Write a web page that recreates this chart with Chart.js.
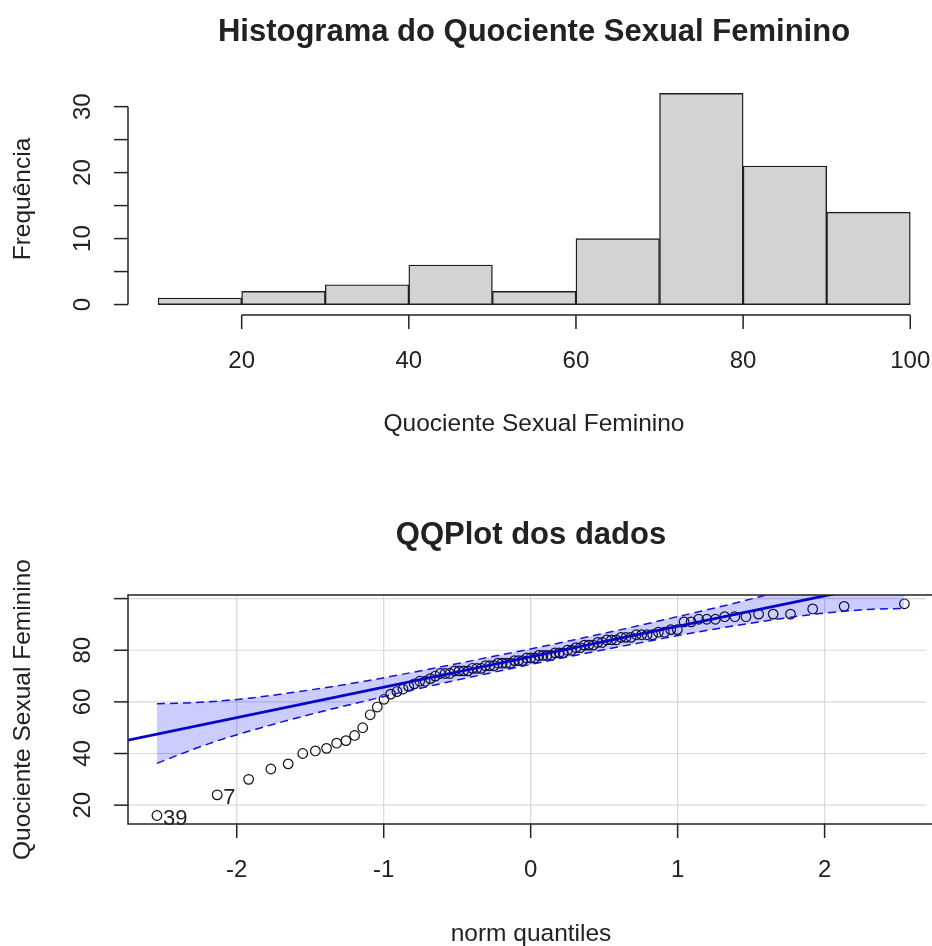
<!DOCTYPE html>
<html>
<head>
<meta charset="utf-8">
<script src="https://cdn.jsdelivr.net/npm/chart.js@4.4.1/dist/chart.umd.min.js"></script>
<style>
  html, body { margin: 0; padding: 0; background: #fff; }
  canvas { display: block; }
</style>
</head>
<body>
<canvas id="hist" width="932" height="473"></canvas>
<canvas id="qq" width="932" height="473"></canvas>
<script>
// Histogram data
const breaks = [10, 20, 30, 40, 50, 60, 70, 80, 90, 100];
const counts = [1, 2, 3, 6, 2, 10, 32, 21, 14];
const histXTicks = [20, 40, 60, 80, 100];
const histYTicks = [0, 5, 10, 15, 20, 25, 30];
const histYLabels = [0, 10, 20, 30];

// QQ plot data (sorted sample vs normal quantiles)
const theoQuantiles = [
  -2.543, -2.133, -1.919, -1.768, -1.650, -1.551, -1.465, -1.389, -1.320, -1.257,
  -1.198, -1.143, -1.092, -1.044, -0.998, -0.953, -0.910, -0.869, -0.830, -0.792,
  -0.755, -0.718, -0.683, -0.649, -0.615, -0.582, -0.550, -0.518, -0.487, -0.456,
  -0.426, -0.396, -0.366, -0.337, -0.308, -0.279, -0.250, -0.222, -0.194, -0.166,
  -0.138, -0.110, -0.083, -0.055, -0.028, 0,
  0.028, 0.055, 0.083, 0.110, 0.138, 0.166, 0.194, 0.222, 0.250, 0.279,
  0.308, 0.337, 0.366, 0.396, 0.426, 0.456, 0.487, 0.518, 0.550, 0.582,
  0.615, 0.649, 0.683, 0.718, 0.755, 0.792, 0.830, 0.869, 0.910, 0.953,
  0.998, 1.044, 1.092, 1.143, 1.198, 1.257, 1.320, 1.389, 1.465, 1.551,
  1.650, 1.768, 1.919, 2.133, 2.543
];
const sampleValues = [
  16, 24, 30, 34, 36, 40, 41, 42, 44, 45, 47, 50,
  55, 58,
  61, 63, 64, 65, 66, 67, 68, 68, 69, 70,
  71, 71, 71, 72, 72, 72, 72, 73, 73, 73, 74, 74, 74, 75, 75, 75, 75, 76, 76, 76,
  77, 77, 77, 78, 78, 78, 78, 79, 79, 79, 80, 80,
  81, 81, 82, 82, 82, 83, 83, 84, 84, 84, 85, 85, 85, 86, 86, 86, 86, 87, 87, 88, 88,
  91, 91, 92, 92, 92, 93, 93, 93, 94, 94, 94, 96, 97, 98
];
const fitX = [-2.74, 2.69];
const fitY = [45.2, 109.2];
const bandX = [-2.543, -2.33, -2.133, -1.919, -1.65, -1.4, -1.15, -0.9, -0.6, -0.3, 0,
  0.3, 0.6, 0.9, 1.15, 1.4, 1.65, 1.919, 2.133, 2.33, 2.543];
const bandUpper = [59.3, 59.6, 60.3, 61.4, 63.4, 65.5, 67.8, 70.4, 73.7, 77.1, 80.5,
  84.1, 87.8, 91.7, 95.0, 98.4, 102.1, 106.4, 110.1, 114.1, 118.8];
const bandLower = [36.2, 40.9, 44.9, 48.6, 52.9, 56.6, 60.0, 63.4, 67.2, 70.9, 74.5,
  78.0, 81.3, 84.6, 87.2, 89.6, 91.8, 93.9, 95.1, 95.9, 96.2];
const qqXTicks = [-2, -1, 0, 1, 2];
const qqYTicks = [20, 40, 60, 80, 100];
const qqYLabels = [20, 40, 60, 80];
const labelIndex = [0, 1];
const labelText = ['39', '7'];

const FONT = '"Liberation Sans", Arial, sans-serif';
const INK = '#222';

function seg(ctx, x1, y1, x2, y2) {
  ctx.beginPath();
  ctx.moveTo(x1, y1);
  ctx.lineTo(x2, y2);
  ctx.stroke();
}

function label(ctx, str, x, y, size, bold, rotate) {
  ctx.save();
  ctx.font = (bold ? 'bold ' : '') + size + 'px ' + FONT;
  ctx.fillStyle = INK;
  ctx.textAlign = 'center';
  ctx.textBaseline = 'middle';
  ctx.translate(x, y);
  if (rotate) ctx.rotate(-Math.PI / 2);
  ctx.fillText(str, 0, 0);
  ctx.restore();
}

// R style axes, titles, grid and box
const rAxes = {
  id: 'rAxes',
  beforeDatasetsDraw(chart, args, o) {
    if (!o.grid) return;
    const { ctx, chartArea: a, scales: { x, y } } = chart;
    ctx.save();
    ctx.strokeStyle = '#d8d8d8';
    ctx.lineWidth = 1.2;
    o.xTicks.forEach(v => { const p = x.getPixelForValue(v); seg(ctx, p, a.top, p, a.bottom); });
    o.yTicks.forEach(v => { const p = y.getPixelForValue(v); seg(ctx, a.left, p, a.right, p); });
    ctx.restore();
  },
  afterDraw(chart, args, o) {
    const { ctx, chartArea: a, scales: { x, y } } = chart;
    ctx.save();
    ctx.strokeStyle = INK;
    ctx.lineWidth = 1.5;
    let axY, axX;
    if (o.box) {
      ctx.strokeRect(a.left, a.top, a.right + 10 - a.left, a.bottom - a.top);
      axY = a.bottom;
      axX = a.left;
    } else {
      axY = a.bottom + 2;
      axX = a.left;
      seg(ctx, x.getPixelForValue(o.xTicks[0]), axY, x.getPixelForValue(o.xTicks[o.xTicks.length - 1]), axY);
      seg(ctx, axX, y.getPixelForValue(o.yTicks[0]), axX, y.getPixelForValue(o.yTicks[o.yTicks.length - 1]));
    }
    o.xTicks.forEach(v => {
      const p = x.getPixelForValue(v);
      seg(ctx, p, axY, p, axY + 14);
      label(ctx, String(v), p, axY + 46, 24, false, false);
    });
    o.yTicks.forEach(v => {
      const p = y.getPixelForValue(v);
      seg(ctx, axX, p, axX - 14, p);
    });
    o.yLabels.forEach(v => label(ctx, String(v), 83, y.getPixelForValue(v), 24, false, true));
    ctx.restore();
    label(ctx, o.title, (a.left + a.right + 8) / 2, o.titleY, 31, true, false);
    label(ctx, o.xTitle, (a.left + a.right + 8) / 2, o.xTitleY, 24.5, false, false);
    label(ctx, o.yTitle, 23, (a.top + a.bottom) / 2, 24.5, false, true);
    if (o.pointText) {
      ctx.save();
      ctx.font = '22px ' + FONT;
      ctx.fillStyle = INK;
      ctx.textAlign = 'left';
      ctx.textBaseline = 'middle';
      labelIndex.forEach((idx, k) => {
        ctx.fillText(labelText[k], x.getPixelForValue(theoQuantiles[idx]) + 6, y.getPixelForValue(sampleValues[idx]) + 3);
      });
      ctx.restore();
    }
  }
};

new Chart(document.getElementById('hist'), {
  type: 'bar',
  data: {
    datasets: [{
      data: counts.map((c, i) => ({ x: (breaks[i] + breaks[i + 1]) / 2, y: c })),
      backgroundColor: '#d3d3d3',
      borderColor: '#1e1e1e',
      borderWidth: 1.4,
      borderSkipped: false,
      barPercentage: 1,
      categoryPercentage: 1
    }]
  },
  options: {
    responsive: false,
    animation: false,
    devicePixelRatio: 1,
    layout: { padding: { left: 128, right: 0, top: 85, bottom: 160 } },
    scales: {
      x: { type: 'linear', min: 6.4, max: 102.6, offset: false, display: false },
      y: { min: -1.28, max: 33.28, display: false }
    },
    plugins: {
      legend: { display: false },
      tooltip: { enabled: false },
      rAxes: {
        xTicks: histXTicks, yTicks: histYTicks, yLabels: histYLabels,
        title: 'Histograma do Quociente Sexual Feminino', titleY: 32,
        xTitle: 'Quociente Sexual Feminino', xTitleY: 424,
        yTitle: 'Frequência', grid: false, box: false, pointText: false
      }
    }
  },
  plugins: [rAxes]
});

new Chart(document.getElementById('qq'), {
  type: 'line',
  data: {
    datasets: [
      {
        data: theoQuantiles.map((z, i) => ({ x: z, y: sampleValues[i] })),
        showLine: false,
        pointRadius: 4.8,
        pointBorderWidth: 1.2,
        pointBorderColor: '#111',
        pointBackgroundColor: 'rgba(0,0,0,0)',
        order: 3
      },
      {
        data: bandX.map((z, i) => ({ x: z, y: bandUpper[i] })),
        borderColor: '#1010e0',
        borderWidth: 1.5,
        borderDash: [8, 5],
        backgroundColor: 'rgba(0,0,255,0.2)',
        fill: '+1',
        pointRadius: 0,
        cubicInterpolationMode: 'monotone',
        clip: 0,
        order: 2
      },
      {
        data: bandX.map((z, i) => ({ x: z, y: bandLower[i] })),
        borderColor: '#1010e0',
        borderWidth: 1.5,
        borderDash: [8, 5],
        fill: false,
        pointRadius: 0,
        cubicInterpolationMode: 'monotone',
        clip: 0,
        order: 2
      },
      {
        data: fitX.map((z, i) => ({ x: z, y: fitY[i] })),
        borderColor: '#0606c8',
        borderWidth: 2.8,
        fill: false,
        pointRadius: 0,
        clip: 0,
        order: 1
      }
    ]
  },
  options: {
    responsive: false,
    animation: false,
    devicePixelRatio: 1,
    layout: { padding: { left: 128, right: 0, top: 122, bottom: 122 } },
    scales: {
      x: { type: 'linear', min: -2.74, max: 2.69, display: false },
      y: { min: 12.7, max: 101.4, display: false }
    },
    plugins: {
      legend: { display: false },
      tooltip: { enabled: false },
      rAxes: {
        xTicks: qqXTicks, yTicks: qqYTicks, yLabels: qqYLabels,
        title: 'QQPlot dos dados', titleY: 62,
        xTitle: 'norm quantiles', xTitleY: 461,
        yTitle: 'Quociente Sexual Feminino', grid: true, box: true, pointText: true
      }
    }
  },
  plugins: [rAxes]
});
</script>
</body>
</html>
